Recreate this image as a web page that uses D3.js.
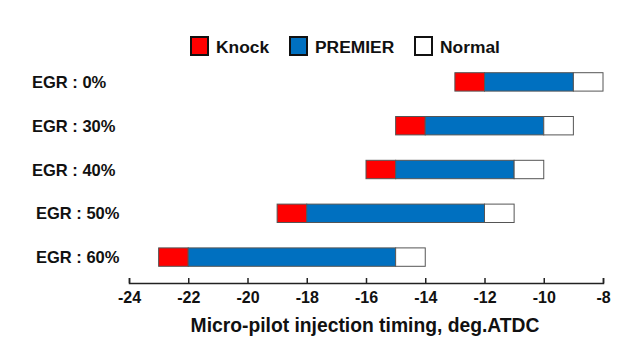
<!DOCTYPE html>
<html>
<head>
<meta charset="utf-8">
<script src="https://cdnjs.cloudflare.com/ajax/libs/d3/7.8.5/d3.min.js"></script>
<style>
  body { margin: 0; background: #fff; }
  text { font-family: Arial, "Liberation Sans", sans-serif; font-weight: bold; fill: #111; }
</style>
</head>
<body>
<div id="chart"></div>
<script>
// categories and segment bounds (deg.ATDC)
var categories = ["EGR : 0%", "EGR : 30%", "EGR : 40%", "EGR : 50%", "EGR : 60%"];
var knockStart = [-13, -15, -16, -19, -23];
var premierStart = [-12, -14, -15, -18, -22];
var normalStart = [-9, -10, -11, -12, -15];
var normalEnd = [-8, -9, -10, -11, -14];
var xTicks = [-24, -22, -20, -18, -16, -14, -12, -10, -8];
var seriesNames = ["Knock", "PREMIER", "Normal"];
var seriesColors = ["#ff0000", "#0070c0", "#ffffff"];

function chart() {
  var w = 644, h = 353;
  var svg = d3.select("#chart").append("svg")
              .attr("width", w).attr("height", h);

  var x = d3.scaleLinear().domain([-24, -8]).range([129, 603]);
  var y = d3.scaleBand().domain(categories).range([60, 279]).paddingInner(0.58).paddingOuter(0.29);

  // build segments
  var segs = [];
  categories.forEach(function(c, i) {
    var b = [knockStart[i], premierStart[i], normalStart[i], normalEnd[i]];
    for (var k = 0; k < 3; k++) {
      segs.push({cat: c, x0: b[k], x1: b[k + 1], k: k});
    }
  });

  svg.selectAll("rect.seg")
     .data(segs)
     .enter()
     .append("rect")
     .attr("class", "seg")
     .attr("x", function(d) { return x(d.x0); })
     .attr("y", function(d) { return y(d.cat); })
     .attr("width", function(d) { return x(d.x1) - x(d.x0); })
     .attr("height", y.bandwidth())
     .attr("fill", function(d) { return seriesColors[d.k]; })
     .attr("stroke", "#555")
     .attr("stroke-width", 1);

  // category labels
  svg.selectAll("text.cat")
     .data(categories)
     .enter()
     .append("text")
     .attr("class", "cat")
     .attr("x", function(d, i) { return i < 3 ? 32 : 36; })
     .attr("y", function(d) { return y(d) + y.bandwidth() / 2 + 6; })
     .style("font-size", "16.5px")
     .text(function(d) { return d; });

  // x axis with inward ticks
  var axis = d3.axisBottom(x).tickValues(xTicks)
               .tickFormat(function(d) { return String(d); })
               .tickSizeInner(-5).tickSizeOuter(-5).tickPadding(9);
  var g = svg.append("g").attr("transform", "translate(0,283)").call(axis);
  g.select(".domain").attr("stroke", "#222").attr("stroke-width", 1.5);
  g.selectAll(".tick line").attr("stroke", "#222").attr("stroke-width", 1.5);
  g.selectAll(".tick text")
   .style("font-size", "16px")
   .style("font-family", "Arial, 'Liberation Sans', sans-serif")
   .style("font-weight", "bold")
   .attr("fill", "#111");

  svg.append("text")
     .attr("x", 365)
     .attr("y", 332)
     .attr("text-anchor", "middle")
     .style("font-size", "19.3px")
     .text("Micro-pilot injection timing, deg.ATDC");

  // legend
  var legX = [191, 290, 415];
  var leg = svg.selectAll("g.leg")
     .data(seriesNames)
     .enter()
     .append("g")
     .attr("class", "leg")
     .attr("transform", function(d, i) { return "translate(" + legX[i] + ",37)"; });
  leg.append("rect")
     .attr("width", 17).attr("height", 18)
     .attr("fill", function(d, i) { return seriesColors[i]; })
     .attr("stroke", "#111")
     .attr("stroke-width", 2);
  leg.append("text")
     .attr("x", 25).attr("y", 15.5)
     .style("font-size", "17.4px")
     .text(function(d) { return d; });
}

window.onload = function() { chart(); };
</script>
</body>
</html>
